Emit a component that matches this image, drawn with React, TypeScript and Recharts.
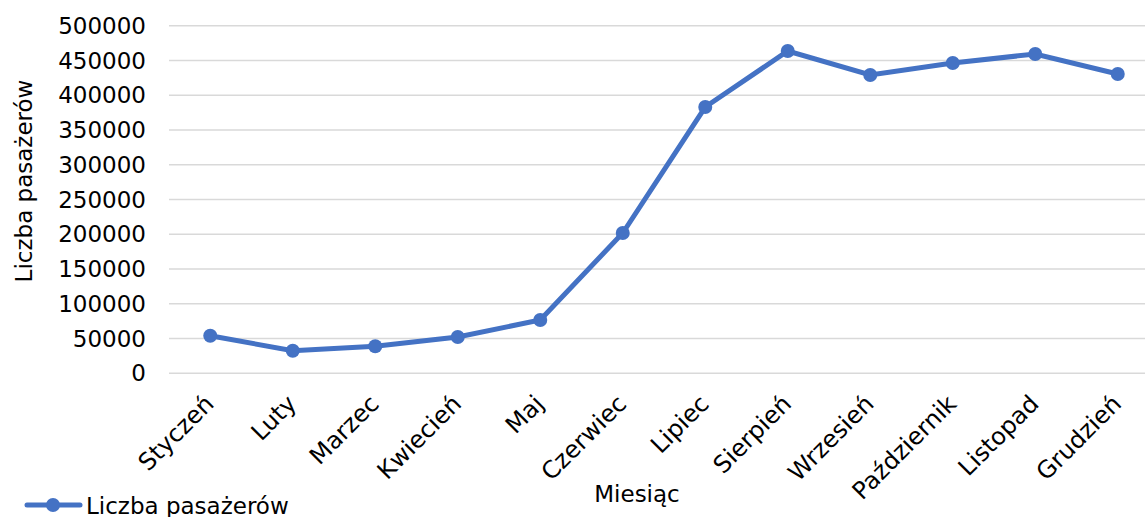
import React from "react";
import { LineChart, Line, XAxis, YAxis, CartesianGrid } from "recharts";

const months = [
  "Styczeń",
  "Luty",
  "Marzec",
  "Kwiecień",
  "Maj",
  "Czerwiec",
  "Lipiec",
  "Sierpień",
  "Wrzesień",
  "Październik",
  "Listopad",
  "Grudzień",
];

const passengers = [54000, 32500, 39000, 52200, 76700, 201800, 383000, 463600, 429100, 446300, 459300, 430500];

const yTicks = [0, 50000, 100000, 150000, 200000, 250000, 300000, 350000, 400000, 450000, 500000];

const seriesName = "Liczba pasażerów";
const xTitle = "Miesiąc";

const data = months.map((m, i) => ({ month: m, value: passengers[i] }));

const BLUE = "#4472C4";
const FONT = "'DejaVu Sans', Verdana, sans-serif";

// month names are slanted up to the right and end just past their tick
function MonthTick({ x, y, payload }: any) {
  return (
    <g transform={`translate(${x + 5},${y + 24})`}>
      <text transform="rotate(-45)" textAnchor="end" fontSize={24} fill="#000" fontFamily={FONT}>
        {payload.value}
      </text>
    </g>
  );
}

function SeriesLegend() {
  return (
    <svg width={320} height={30} style={{ display: "block" }}>
      <line x1={27} y1={15} x2={80} y2={15} stroke={BLUE} strokeWidth={5} strokeLinecap="round" />
      <circle cx={53} cy={15} r={7} fill={BLUE} />
      <text x={86} y={24} fontSize={23} fill="#000" fontFamily={FONT}>
        {seriesName}
      </text>
    </svg>
  );
}

export default function App() {
  return (
    <div
      style={{
        position: "absolute",
        left: 0,
        top: 0,
        width: 1145,
        height: 517,
        overflow: "hidden",
        background: "#fff",
        fontFamily: FONT,
      }}
    >
      <LineChart width={1160} height={517} data={data} margin={{ top: 25.7, right: 1, bottom: 0, left: 0 }}>
        <CartesianGrid vertical={false} stroke="#d9d9d9" strokeWidth={1.5} />
        <XAxis
          dataKey="month"
          height={143.7}
          interval={0}
          padding={{ left: 41.25, right: 41.25 }}
          axisLine={false}
          tickLine={false}
          tick={<MonthTick />}
          label={{
            content: () => (
              <text x={637} y={502} textAnchor="middle" fontSize={23} fill="#000" fontFamily={FONT}>
                {xTitle}
              </text>
            ),
          }}
        />
        <YAxis
          width={169}
          domain={[0, 500000]}
          ticks={yTicks}
          interval={0}
          axisLine={false}
          tickLine={false}
          tickSize={0}
          tickMargin={23}
          tick={{ fill: "#000", fontSize: 23, fontFamily: FONT }}
          label={{
            content: () => (
              <text
                x={32}
                y={181}
                transform="rotate(-90 32 181)"
                textAnchor="middle"
                fontSize={23}
                fill="#000"
                fontFamily={FONT}
              >
                {seriesName}
              </text>
            ),
          }}
        />
        <Line
          type="linear"
          dataKey="value"
          name={seriesName}
          stroke={BLUE}
          strokeWidth={5}
          dot={{ r: 7, fill: BLUE, stroke: "none" }}
          activeDot={false}
          isAnimationActive={false}
        />
      </LineChart>
      <div style={{ position: "absolute", left: 0, top: 490 }}>
        <SeriesLegend />
      </div>
    </div>
  );
}
